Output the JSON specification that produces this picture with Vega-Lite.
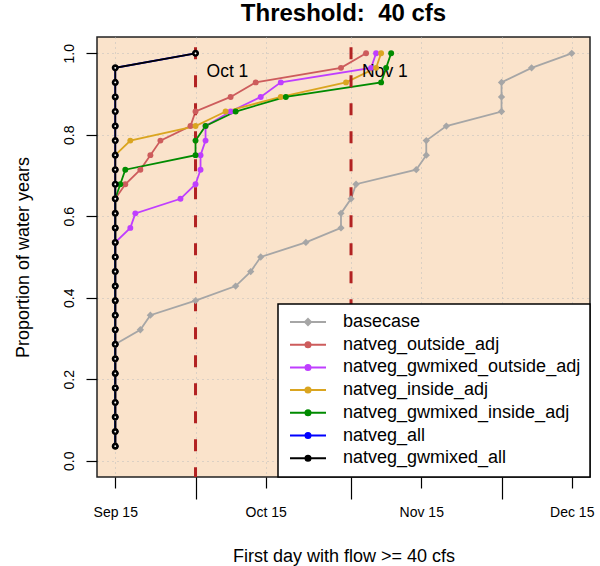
{
 "$schema": "https://vega.github.io/schema/vega-lite/v6.json",
 "width": 493,
 "height": 440,
 "autosize": {"type": "none"},
 "padding": {"left": 97, "top": 37, "right": 10, "bottom": 89},
 "background": "white",
 "config": {"font": "Liberation Sans", "view": {"fill": "#FAE3CB", "stroke": "#222222", "strokeWidth": 1.5}},
 "title": {"text": "Threshold:\u00a0 40 cfs", "fontSize": 24, "fontWeight": "bold", "color": "black", "anchor": "middle", "offset": 10},
 "datasets": {
  "curves": [
   {"series":"basecase","date":"2000-09-15","prop":0.0357},
   {"series":"basecase","date":"2000-09-15","prop":0.0714},
   {"series":"basecase","date":"2000-09-15","prop":0.1071},
   {"series":"basecase","date":"2000-09-15","prop":0.1429},
   {"series":"basecase","date":"2000-09-15","prop":0.1786},
   {"series":"basecase","date":"2000-09-15","prop":0.2143},
   {"series":"basecase","date":"2000-09-15","prop":0.25},
   {"series":"basecase","date":"2000-09-15","prop":0.2857},
   {"series":"basecase","date":"2000-09-20","prop":0.3214},
   {"series":"basecase","date":"2000-09-22","prop":0.3571},
   {"series":"basecase","date":"2000-10-01","prop":0.3929},
   {"series":"basecase","date":"2000-10-09","prop":0.4286},
   {"series":"basecase","date":"2000-10-12","prop":0.4643},
   {"series":"basecase","date":"2000-10-14","prop":0.5},
   {"series":"basecase","date":"2000-10-23","prop":0.5357},
   {"series":"basecase","date":"2000-10-30","prop":0.5714},
   {"series":"basecase","date":"2000-10-30","prop":0.6071},
   {"series":"basecase","date":"2000-11-01","prop":0.6429},
   {"series":"basecase","date":"2000-11-02","prop":0.6786},
   {"series":"basecase","date":"2000-11-14","prop":0.7143},
   {"series":"basecase","date":"2000-11-16","prop":0.75},
   {"series":"basecase","date":"2000-11-16","prop":0.7857},
   {"series":"basecase","date":"2000-11-20","prop":0.8214},
   {"series":"basecase","date":"2000-12-01","prop":0.8571},
   {"series":"basecase","date":"2000-12-01","prop":0.8929},
   {"series":"basecase","date":"2000-12-01","prop":0.9286},
   {"series":"basecase","date":"2000-12-07","prop":0.9643},
   {"series":"basecase","date":"2000-12-15","prop":1},
   {"series":"natveg_outside_adj","date":"2000-09-15","prop":0.0357},
   {"series":"natveg_outside_adj","date":"2000-09-15","prop":0.0714},
   {"series":"natveg_outside_adj","date":"2000-09-15","prop":0.1071},
   {"series":"natveg_outside_adj","date":"2000-09-15","prop":0.1429},
   {"series":"natveg_outside_adj","date":"2000-09-15","prop":0.1786},
   {"series":"natveg_outside_adj","date":"2000-09-15","prop":0.2143},
   {"series":"natveg_outside_adj","date":"2000-09-15","prop":0.25},
   {"series":"natveg_outside_adj","date":"2000-09-15","prop":0.2857},
   {"series":"natveg_outside_adj","date":"2000-09-15","prop":0.3214},
   {"series":"natveg_outside_adj","date":"2000-09-15","prop":0.3571},
   {"series":"natveg_outside_adj","date":"2000-09-15","prop":0.3929},
   {"series":"natveg_outside_adj","date":"2000-09-15","prop":0.4286},
   {"series":"natveg_outside_adj","date":"2000-09-15","prop":0.4643},
   {"series":"natveg_outside_adj","date":"2000-09-15","prop":0.5},
   {"series":"natveg_outside_adj","date":"2000-09-15","prop":0.5357},
   {"series":"natveg_outside_adj","date":"2000-09-15","prop":0.5714},
   {"series":"natveg_outside_adj","date":"2000-09-15","prop":0.6071},
   {"series":"natveg_outside_adj","date":"2000-09-15","prop":0.6429},
   {"series":"natveg_outside_adj","date":"2000-09-17","prop":0.6786},
   {"series":"natveg_outside_adj","date":"2000-09-20","prop":0.7143},
   {"series":"natveg_outside_adj","date":"2000-09-22","prop":0.75},
   {"series":"natveg_outside_adj","date":"2000-09-24","prop":0.7857},
   {"series":"natveg_outside_adj","date":"2000-09-30","prop":0.8214},
   {"series":"natveg_outside_adj","date":"2000-10-01","prop":0.8571},
   {"series":"natveg_outside_adj","date":"2000-10-08","prop":0.8929},
   {"series":"natveg_outside_adj","date":"2000-10-13","prop":0.9286},
   {"series":"natveg_outside_adj","date":"2000-10-30","prop":0.9643},
   {"series":"natveg_outside_adj","date":"2000-11-04","prop":1},
   {"series":"natveg_gwmixed_outside_adj","date":"2000-09-15","prop":0.0357},
   {"series":"natveg_gwmixed_outside_adj","date":"2000-09-15","prop":0.0714},
   {"series":"natveg_gwmixed_outside_adj","date":"2000-09-15","prop":0.1071},
   {"series":"natveg_gwmixed_outside_adj","date":"2000-09-15","prop":0.1429},
   {"series":"natveg_gwmixed_outside_adj","date":"2000-09-15","prop":0.1786},
   {"series":"natveg_gwmixed_outside_adj","date":"2000-09-15","prop":0.2143},
   {"series":"natveg_gwmixed_outside_adj","date":"2000-09-15","prop":0.25},
   {"series":"natveg_gwmixed_outside_adj","date":"2000-09-15","prop":0.2857},
   {"series":"natveg_gwmixed_outside_adj","date":"2000-09-15","prop":0.3214},
   {"series":"natveg_gwmixed_outside_adj","date":"2000-09-15","prop":0.3571},
   {"series":"natveg_gwmixed_outside_adj","date":"2000-09-15","prop":0.3929},
   {"series":"natveg_gwmixed_outside_adj","date":"2000-09-15","prop":0.4286},
   {"series":"natveg_gwmixed_outside_adj","date":"2000-09-15","prop":0.4643},
   {"series":"natveg_gwmixed_outside_adj","date":"2000-09-15","prop":0.5},
   {"series":"natveg_gwmixed_outside_adj","date":"2000-09-15","prop":0.5357},
   {"series":"natveg_gwmixed_outside_adj","date":"2000-09-18","prop":0.5714},
   {"series":"natveg_gwmixed_outside_adj","date":"2000-09-19","prop":0.6071},
   {"series":"natveg_gwmixed_outside_adj","date":"2000-09-28","prop":0.6429},
   {"series":"natveg_gwmixed_outside_adj","date":"2000-10-01","prop":0.6786},
   {"series":"natveg_gwmixed_outside_adj","date":"2000-10-02","prop":0.7143},
   {"series":"natveg_gwmixed_outside_adj","date":"2000-10-02","prop":0.75},
   {"series":"natveg_gwmixed_outside_adj","date":"2000-10-03","prop":0.7857},
   {"series":"natveg_gwmixed_outside_adj","date":"2000-10-03","prop":0.8214},
   {"series":"natveg_gwmixed_outside_adj","date":"2000-10-08","prop":0.8571},
   {"series":"natveg_gwmixed_outside_adj","date":"2000-10-14","prop":0.8929},
   {"series":"natveg_gwmixed_outside_adj","date":"2000-10-18","prop":0.9286},
   {"series":"natveg_gwmixed_outside_adj","date":"2000-11-05","prop":0.9643},
   {"series":"natveg_gwmixed_outside_adj","date":"2000-11-06","prop":1},
   {"series":"natveg_inside_adj","date":"2000-09-15","prop":0.0357},
   {"series":"natveg_inside_adj","date":"2000-09-15","prop":0.0714},
   {"series":"natveg_inside_adj","date":"2000-09-15","prop":0.1071},
   {"series":"natveg_inside_adj","date":"2000-09-15","prop":0.1429},
   {"series":"natveg_inside_adj","date":"2000-09-15","prop":0.1786},
   {"series":"natveg_inside_adj","date":"2000-09-15","prop":0.2143},
   {"series":"natveg_inside_adj","date":"2000-09-15","prop":0.25},
   {"series":"natveg_inside_adj","date":"2000-09-15","prop":0.2857},
   {"series":"natveg_inside_adj","date":"2000-09-15","prop":0.3214},
   {"series":"natveg_inside_adj","date":"2000-09-15","prop":0.3571},
   {"series":"natveg_inside_adj","date":"2000-09-15","prop":0.3929},
   {"series":"natveg_inside_adj","date":"2000-09-15","prop":0.4286},
   {"series":"natveg_inside_adj","date":"2000-09-15","prop":0.4643},
   {"series":"natveg_inside_adj","date":"2000-09-15","prop":0.5},
   {"series":"natveg_inside_adj","date":"2000-09-15","prop":0.5357},
   {"series":"natveg_inside_adj","date":"2000-09-15","prop":0.5714},
   {"series":"natveg_inside_adj","date":"2000-09-15","prop":0.6071},
   {"series":"natveg_inside_adj","date":"2000-09-15","prop":0.6429},
   {"series":"natveg_inside_adj","date":"2000-09-15","prop":0.6786},
   {"series":"natveg_inside_adj","date":"2000-09-15","prop":0.7143},
   {"series":"natveg_inside_adj","date":"2000-09-15","prop":0.75},
   {"series":"natveg_inside_adj","date":"2000-09-18","prop":0.7857},
   {"series":"natveg_inside_adj","date":"2000-10-01","prop":0.8214},
   {"series":"natveg_inside_adj","date":"2000-10-07","prop":0.8571},
   {"series":"natveg_inside_adj","date":"2000-10-18","prop":0.8929},
   {"series":"natveg_inside_adj","date":"2000-10-31","prop":0.9286},
   {"series":"natveg_inside_adj","date":"2000-11-06","prop":0.9643},
   {"series":"natveg_inside_adj","date":"2000-11-07","prop":1},
   {"series":"natveg_gwmixed_inside_adj","date":"2000-09-15","prop":0.0357},
   {"series":"natveg_gwmixed_inside_adj","date":"2000-09-15","prop":0.0714},
   {"series":"natveg_gwmixed_inside_adj","date":"2000-09-15","prop":0.1071},
   {"series":"natveg_gwmixed_inside_adj","date":"2000-09-15","prop":0.1429},
   {"series":"natveg_gwmixed_inside_adj","date":"2000-09-15","prop":0.1786},
   {"series":"natveg_gwmixed_inside_adj","date":"2000-09-15","prop":0.2143},
   {"series":"natveg_gwmixed_inside_adj","date":"2000-09-15","prop":0.25},
   {"series":"natveg_gwmixed_inside_adj","date":"2000-09-15","prop":0.2857},
   {"series":"natveg_gwmixed_inside_adj","date":"2000-09-15","prop":0.3214},
   {"series":"natveg_gwmixed_inside_adj","date":"2000-09-15","prop":0.3571},
   {"series":"natveg_gwmixed_inside_adj","date":"2000-09-15","prop":0.3929},
   {"series":"natveg_gwmixed_inside_adj","date":"2000-09-15","prop":0.4286},
   {"series":"natveg_gwmixed_inside_adj","date":"2000-09-15","prop":0.4643},
   {"series":"natveg_gwmixed_inside_adj","date":"2000-09-15","prop":0.5},
   {"series":"natveg_gwmixed_inside_adj","date":"2000-09-15","prop":0.5357},
   {"series":"natveg_gwmixed_inside_adj","date":"2000-09-15","prop":0.5714},
   {"series":"natveg_gwmixed_inside_adj","date":"2000-09-15","prop":0.6071},
   {"series":"natveg_gwmixed_inside_adj","date":"2000-09-15","prop":0.6429},
   {"series":"natveg_gwmixed_inside_adj","date":"2000-09-16","prop":0.6786},
   {"series":"natveg_gwmixed_inside_adj","date":"2000-09-17","prop":0.7143},
   {"series":"natveg_gwmixed_inside_adj","date":"2000-10-01","prop":0.75},
   {"series":"natveg_gwmixed_inside_adj","date":"2000-10-01","prop":0.7857},
   {"series":"natveg_gwmixed_inside_adj","date":"2000-10-03","prop":0.8214},
   {"series":"natveg_gwmixed_inside_adj","date":"2000-10-09","prop":0.8571},
   {"series":"natveg_gwmixed_inside_adj","date":"2000-10-19","prop":0.8929},
   {"series":"natveg_gwmixed_inside_adj","date":"2000-11-07","prop":0.9286},
   {"series":"natveg_gwmixed_inside_adj","date":"2000-11-08","prop":0.9643},
   {"series":"natveg_gwmixed_inside_adj","date":"2000-11-09","prop":1},
   {"series":"natveg_all","date":"2000-09-15","prop":0.0357},
   {"series":"natveg_all","date":"2000-09-15","prop":0.0714},
   {"series":"natveg_all","date":"2000-09-15","prop":0.1071},
   {"series":"natveg_all","date":"2000-09-15","prop":0.1429},
   {"series":"natveg_all","date":"2000-09-15","prop":0.1786},
   {"series":"natveg_all","date":"2000-09-15","prop":0.2143},
   {"series":"natveg_all","date":"2000-09-15","prop":0.25},
   {"series":"natveg_all","date":"2000-09-15","prop":0.2857},
   {"series":"natveg_all","date":"2000-09-15","prop":0.3214},
   {"series":"natveg_all","date":"2000-09-15","prop":0.3571},
   {"series":"natveg_all","date":"2000-09-15","prop":0.3929},
   {"series":"natveg_all","date":"2000-09-15","prop":0.4286},
   {"series":"natveg_all","date":"2000-09-15","prop":0.4643},
   {"series":"natveg_all","date":"2000-09-15","prop":0.5},
   {"series":"natveg_all","date":"2000-09-15","prop":0.5357},
   {"series":"natveg_all","date":"2000-09-15","prop":0.5714},
   {"series":"natveg_all","date":"2000-09-15","prop":0.6071},
   {"series":"natveg_all","date":"2000-09-15","prop":0.6429},
   {"series":"natveg_all","date":"2000-09-15","prop":0.6786},
   {"series":"natveg_all","date":"2000-09-15","prop":0.7143},
   {"series":"natveg_all","date":"2000-09-15","prop":0.75},
   {"series":"natveg_all","date":"2000-09-15","prop":0.7857},
   {"series":"natveg_all","date":"2000-09-15","prop":0.8214},
   {"series":"natveg_all","date":"2000-09-15","prop":0.8571},
   {"series":"natveg_all","date":"2000-09-15","prop":0.8929},
   {"series":"natveg_all","date":"2000-09-15","prop":0.9286},
   {"series":"natveg_all","date":"2000-09-15","prop":0.9643},
   {"series":"natveg_all","date":"2000-10-01","prop":1},
   {"series":"natveg_gwmixed_all","date":"2000-09-15","prop":0.0357},
   {"series":"natveg_gwmixed_all","date":"2000-09-15","prop":0.0714},
   {"series":"natveg_gwmixed_all","date":"2000-09-15","prop":0.1071},
   {"series":"natveg_gwmixed_all","date":"2000-09-15","prop":0.1429},
   {"series":"natveg_gwmixed_all","date":"2000-09-15","prop":0.1786},
   {"series":"natveg_gwmixed_all","date":"2000-09-15","prop":0.2143},
   {"series":"natveg_gwmixed_all","date":"2000-09-15","prop":0.25},
   {"series":"natveg_gwmixed_all","date":"2000-09-15","prop":0.2857},
   {"series":"natveg_gwmixed_all","date":"2000-09-15","prop":0.3214},
   {"series":"natveg_gwmixed_all","date":"2000-09-15","prop":0.3571},
   {"series":"natveg_gwmixed_all","date":"2000-09-15","prop":0.3929},
   {"series":"natveg_gwmixed_all","date":"2000-09-15","prop":0.4286},
   {"series":"natveg_gwmixed_all","date":"2000-09-15","prop":0.4643},
   {"series":"natveg_gwmixed_all","date":"2000-09-15","prop":0.5},
   {"series":"natveg_gwmixed_all","date":"2000-09-15","prop":0.5357},
   {"series":"natveg_gwmixed_all","date":"2000-09-15","prop":0.5714},
   {"series":"natveg_gwmixed_all","date":"2000-09-15","prop":0.6071},
   {"series":"natveg_gwmixed_all","date":"2000-09-15","prop":0.6429},
   {"series":"natveg_gwmixed_all","date":"2000-09-15","prop":0.6786},
   {"series":"natveg_gwmixed_all","date":"2000-09-15","prop":0.7143},
   {"series":"natveg_gwmixed_all","date":"2000-09-15","prop":0.75},
   {"series":"natveg_gwmixed_all","date":"2000-09-15","prop":0.7857},
   {"series":"natveg_gwmixed_all","date":"2000-09-15","prop":0.8214},
   {"series":"natveg_gwmixed_all","date":"2000-09-15","prop":0.8571},
   {"series":"natveg_gwmixed_all","date":"2000-09-15","prop":0.8929},
   {"series":"natveg_gwmixed_all","date":"2000-09-15","prop":0.9286},
   {"series":"natveg_gwmixed_all","date":"2000-09-15","prop":0.9643},
   {"series":"natveg_gwmixed_all","date":"2000-10-01","prop":1}
  ],
  "refs": [
   {"date":"2000-10-01","label":"Oct 1"},
   {"date":"2000-11-01","label":"Nov 1"}
  ]
 },
 "encoding": {
  "x": {
   "field": "date", "type": "temporal",
   "scale": {"type": "utc", "domain": [{"year":2000,"month":9,"date":11,"hours":8,"minutes":38,"utc":true},{"year":2000,"month":12,"date":18,"hours":15,"minutes":22,"utc":true}]},
   "axis": {
    "title": "First day with flow >= 40 cfs",
    "values": [
     {"year":2000,"month":9,"date":15,"utc":true},
     {"year":2000,"month":10,"date":1,"utc":true},
     {"year":2000,"month":10,"date":15,"utc":true},
     {"year":2000,"month":11,"date":1,"utc":true},
     {"year":2000,"month":11,"date":15,"utc":true},
     {"year":2000,"month":12,"date":1,"utc":true},
     {"year":2000,"month":12,"date":15,"utc":true}
    ],
    "labelExpr": "utcdate(datum.value) == 15 ? utcFormat(datum.value, '%b %d') : ''",
    "tickSize": {"condition": {"test": "utcdate(datum.value) == 1", "value": 22}, "value": 11},
    "tickColor": "black", "tickWidth": 1.2,
    "labelPadding": 17, "labelFontSize": 14, "labelColor": "black", "labelFlush": false, "labelOverlap": false, "labelBound": false,
    "domain": false,
    "grid": true, "gridColor": "#BDBDBD", "gridDash": [1, 4], "gridWidth": 1,
    "titleFontSize": 18, "titleFontWeight": "normal", "titleColor": "black", "titlePadding": 17
   }
  }
 },
 "layer": [
  {
   "data": {"name": "curves"},
   "mark": {"type": "line", "strokeWidth": 1.8},
   "encoding": {
    "y": {
     "field": "prop", "type": "quantitative",
     "scale": {"domain": [-0.04, 1.04], "nice": false, "zero": false},
     "axis": {
      "title": "Proportion of water years",
      "values": [0, 0.2, 0.4, 0.6, 0.8, 1],
      "format": ".1f",
      "labelAngle": -90, "labelAlign": "center", "labelBaseline": "bottom",
      "labelFontSize": 14, "labelColor": "black", "labelPadding": 10,
      "tickSize": 11, "tickColor": "black", "tickWidth": 1.2,
      "domain": false,
      "grid": true, "gridColor": "#BDBDBD", "gridDash": [1, 4], "gridWidth": 1,
      "titleFontSize": 18, "titleFontWeight": "normal", "titleColor": "black", "titlePadding": 30
     }
    },
    "color": {
     "field": "series", "type": "nominal",
     "scale": {
      "domain": ["basecase","natveg_outside_adj","natveg_gwmixed_outside_adj","natveg_inside_adj","natveg_gwmixed_inside_adj","natveg_all","natveg_gwmixed_all"],
      "range": ["#A6A6A6","#CD5C5C","#BF3EFF","#DAA520","#008B00","#0000FF","#000000"]
     },
     "legend": {
      "title": null, "orient": "bottom-right", "offset": 0,
      "fillColor": "white", "strokeColor": "black", "cornerRadius": 0, "padding": 9,
      "labelFontSize": 18, "labelColor": "black", "labelLimit": 400, "labelOffset": 38,
      "rowPadding": 4.7, "symbolSize": 144, "symbolStrokeWidth": 2, "symbolOpacity": 1,
      "symbolType": "M-1,0L5,0",
      "encode": {
       "legend": {"update": {"strokeWidth": {"value": 1.5}}},
       "symbols": {
        "update": {
         "shape": {"signal": "datum.value === 'basecase' ? 'M-1,0L5,0M2,-0.5L2.5,0L2,0.5L1.5,0Z' : 'M-1,0L5,0M1.58,0A0.42,0.42,0,1,1,2.42,0A0.42,0.42,0,1,1,1.58,0Z'"},
         "fill": {"scale": "color", "field": "value"},
         "stroke": {"scale": "color", "field": "value"}
        }
       }
      }
     }
    },
    "order": {"field": "prop", "type": "quantitative"}
   }
  },
  {
   "data": {"name": "refs"},
   "mark": {"type": "rule", "color": "#B22222", "strokeWidth": 3, "strokeDash": [12, 16], "strokeDashOffset": 17.7},
   "encoding": {}
  },
  {
   "data": {"name": "refs"},
   "mark": {"type": "text", "align": "left", "baseline": "middle", "dx": 11, "fontSize": 17.5, "color": "black"},
   "encoding": {
    "text": {"field": "label", "type": "nominal"},
    "y": {"datum": 0.954, "type": "quantitative"}
   }
  },
  {
   "data": {"name": "curves"},
   "transform": [{"filter": "datum.series == 'basecase'"}],
   "mark": {"type": "point", "shape": "diamond", "filled": true, "size": 53, "opacity": 1, "color": "#A6A6A6"},
   "encoding": {
    "y": {"field": "prop", "type": "quantitative"}
   }
  },
  {
   "data": {"name": "curves"},
   "transform": [{"filter": "datum.series != 'basecase' && datum.series != 'natveg_gwmixed_all'"}],
   "mark": {"type": "point", "shape": "circle", "filled": true, "size": 35, "opacity": 1},
   "encoding": {
    "y": {"field": "prop", "type": "quantitative"},
    "color": {"field": "series", "type": "nominal", "legend": null,
     "scale": {
      "domain": ["basecase","natveg_outside_adj","natveg_gwmixed_outside_adj","natveg_inside_adj","natveg_gwmixed_inside_adj","natveg_all","natveg_gwmixed_all"],
      "range": ["#A6A6A6","#CD5C5C","#BF3EFF","#DAA520","#008B00","#0000FF","#000000"]
     }}
   }
  },
  {
   "data": {"name": "curves"},
   "transform": [{"filter": "datum.series == 'natveg_gwmixed_all'"}],
   "mark": {"type": "point", "shape": "circle", "filled": false, "fill": "white", "stroke": "black", "strokeWidth": 2.6, "size": 20, "opacity": 1},
   "encoding": {
    "y": {"field": "prop", "type": "quantitative"}
   }
  }
 ]
}
